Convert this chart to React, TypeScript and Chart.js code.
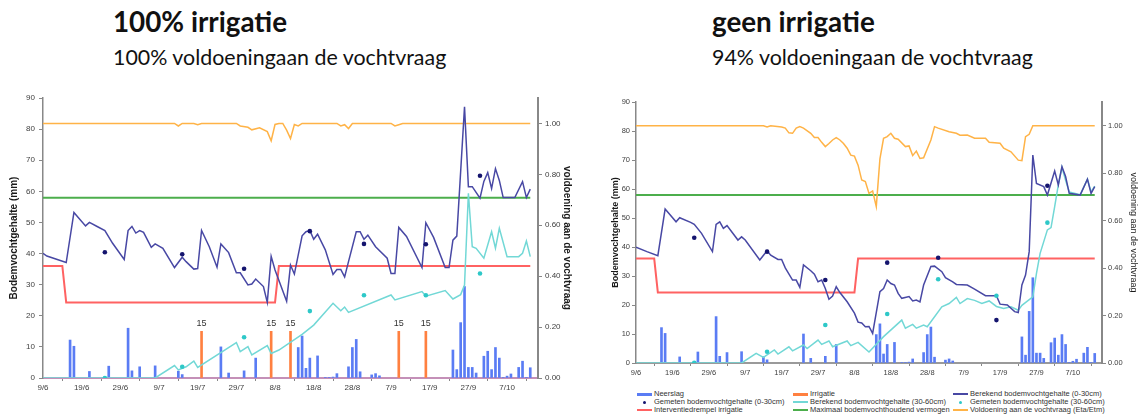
import React, { useEffect, useRef } from 'react';
import { Chart, registerables } from 'chart.js';

Chart.register(...registerables);

// ---------------- data ----------------
// x values are days after 9 June; tick labels are derived from them
const X_MAX_DAYS = 128;
const X_TICK_STEP = 10;

// shared weather / field data
const rainDays = [7, 8, 12, 17, 22, 23, 25, 29, 35, 36, 46, 48, 52, 55, 66, 67, 68, 69, 71, 73, 74, 75, 76, 79, 80, 81, 82, 85, 86, 87, 106, 107, 108, 109, 110, 111, 112, 114, 115, 116, 117, 118, 119, 120, 121, 123, 124, 125, 126];
const rainMm = [12.2, 10.2, 2.1, 3.8, 16.0, 2.3, 3.6, 3.9, 2.2, 1.1, 10.0, 1.6, 2.3, 6.4, 9.8, 13.5, 3.1, 6.4, 7.1, 0.2, 0.2, 0.3, 1.4, 3.6, 9.8, 12.4, 2.0, 1.0, 1.4, 0.7, 9.0, 2.7, 17.8, 29.4, 3.4, 3.4, 1.6, 7.0, 8.6, 2.7, 9.8, 6.4, 0.2, 0.6, 1.3, 3.4, 5.4, 0.2, 3.3];
const measuredDays = [16, 36, 52, 69, 83, 99, 113];
const thresholdLine = [[0, 36], [5, 36], [6, 24.3], [60, 24.3], [61, 36], [126, 36]];
const maxCapacityLine = [[0, 57.9], [126, 57.9]];

// 100% irrigatie
const irrIrrigationDays = [41, 59, 64, 92, 99];
const irrIrrigationMm = [15, 15, 15, 15, 15];
const irrCalc030 = [[0, 40.1], [1, 39.2], [6, 37.1], [8, 53.2], [11, 48.9], [12, 50.0], [14, 48.7], [16, 47.4], [18, 43.3], [21, 38.1], [22, 47.4], [23, 48.7], [24, 46.6], [25, 47.4], [26, 46.8], [28, 42.0], [29, 43.1], [31, 41.7], [34, 35.5], [36, 38.8], [37, 37.4], [39, 35.0], [40, 35.2], [41, 47.4], [43, 42.2], [45, 35.6], [46, 43.1], [48, 40.3], [50, 33.8], [51, 33.8], [53, 29.9], [54, 30.2], [55, 31.8], [57, 29.4], [58, 24.3], [59, 39.1], [60, 34.7], [63, 24.7], [64, 36.3], [65, 33.4], [67, 45.7], [68, 47.0], [69, 47.4], [70, 44.6], [71, 46.2], [73, 41.2], [75, 33.3], [76, 34.9], [77, 34.9], [78, 32.5], [79, 37.4], [81, 47.0], [82, 47.0], [83, 44.6], [84, 45.9], [86, 42.2], [89, 38.5], [90, 33.6], [91, 33.6], [92, 48.4], [94, 45.5], [98, 35.5], [99, 49.9], [101, 45.2], [104, 35.5], [105, 35.5], [106, 44.3], [107, 45.6], [109, 87.2], [110, 61.5], [111, 61.5], [113, 57.8], [114, 63.2], [115, 66.0], [116, 60.9], [117, 67.3], [118, 63.5], [119, 58.0], [122, 58.0], [124, 63.1], [125, 58.0], [126, 60.7]];
const irrCalc3060 = [[0, 0], [29, 0], [34, 4.0], [35, 2.6], [37, 3.6], [39, 5.4], [40, 3.4], [50, 11.4], [51, 8.5], [53, 10.1], [54, 7.4], [58, 10.4], [59, 7.9], [61, 9.0], [67, 14.0], [70, 17.0], [75, 24.0], [77, 21.6], [78, 22.8], [79, 21.1], [90, 26.7], [91, 25.1], [98, 27.8], [99, 26.3], [104, 28.1], [106, 25.4], [108, 26.8], [109, 29.9], [110, 59.4], [111, 42.2], [112, 41.7], [114, 38.5], [116, 47.0], [117, 41.7], [118, 48.1], [120, 39.0], [123, 39.0], [124, 40.1], [125, 44.0], [126, 39.0]];
const irrSupply = [[0, 1.0], [34, 1.0], [35, 0.99], [36, 1.0], [39, 1.0], [40, 0.995], [41, 1.0], [50, 1.0], [51, 0.99], [53, 0.985], [54, 0.975], [56, 0.983], [58, 0.968], [59, 0.932], [60, 0.996], [61, 1.0], [62, 1.0], [63, 0.974], [64, 0.941], [65, 0.996], [66, 0.99], [67, 1.0], [76, 1.0], [77, 0.99], [78, 0.995], [79, 0.98], [80, 1.0], [90, 1.0], [91, 0.99], [92, 0.995], [93, 1.0], [126, 1.0]];
const irrMeasured030 = [40.4, 39.8, 35.1, 47.2, 43.1, 43.0, 65.0];
const irrMeasured3060 = [0.0, 3.6, 13.1, 21.5, 26.6, 26.6, 33.6];

// geen irrigatie
const dryIrrigationDays: number[] = [];
const dryIrrigationMm: number[] = [];
const dryCalc030 = [[0, 39.9], [3, 38.4], [6, 37.0], [8, 53.1], [11, 48.7], [12, 50.1], [15, 48.5], [16, 47.8], [18, 44.7], [21, 38.4], [22, 47.8], [23, 48.7], [24, 46.4], [25, 47.4], [28, 42.4], [29, 43.5], [30, 42.4], [34, 35.5], [36, 38.7], [37, 37.2], [39, 35.7], [40, 35.7], [41, 32.8], [43, 28.6], [44, 28.6], [45, 26.1], [46, 33.8], [48, 31.8], [49, 30.6], [50, 28.0], [51, 28.6], [52, 25.7], [53, 22.0], [54, 23.1], [55, 26.3], [56, 24.3], [58, 21.1], [60, 17.2], [61, 14.1], [62, 13.8], [63, 12.5], [64, 12.6], [65, 10.2], [67, 24.6], [68, 25.7], [69, 28.6], [70, 27.4], [71, 26.9], [72, 24.0], [73, 22.3], [75, 22.9], [76, 21.4], [77, 21.7], [78, 21.1], [79, 26.9], [81, 33.3], [82, 33.4], [84, 31.5], [85, 29.4], [87, 28.0], [88, 27.1], [91, 26.9], [93, 25.5], [96, 23.2], [99, 23.2], [100, 20.3], [102, 20.0], [104, 17.7], [105, 17.4], [106, 26.9], [107, 30.3], [108, 38.4], [109, 71.7], [110, 61.9], [112, 60.8], [113, 57.9], [115, 66.2], [116, 61.4], [117, 67.7], [118, 64.3], [119, 58.5], [122, 57.9], [124, 63.4], [125, 58.5], [126, 60.8]];
const dryCalc3060 = [[0, 0], [29, 0], [33, 3.3], [35, 1.9], [38, 4.5], [39, 3.1], [42, 5.6], [43, 4.2], [46, 6.2], [47, 5.0], [50, 7.9], [51, 6.4], [53, 7.6], [54, 5.6], [58, 7.6], [59, 6.0], [61, 7.1], [64, 3.8], [68, 9.1], [73, 14.8], [74, 12.0], [76, 13.3], [77, 12.0], [79, 13.1], [80, 12.5], [84, 19.4], [86, 20.5], [88, 22.6], [89, 20.5], [91, 22.2], [93, 21.6], [95, 20.5], [97, 21.4], [99, 19.5], [101, 18.8], [103, 19.4], [105, 18.2], [106, 19.9], [109, 22.8], [110, 30.9], [111, 37.8], [113, 45.9], [114, 46.7], [115, 53.9], [116, 61.4], [117, 67.5], [118, 63.0], [119, 59.0], [122, 58.0], [124, 63.4], [125, 59.0], [126, 61.0]];
const drySupply = [[0, 1.0], [35, 1.0], [36, 0.995], [37, 1.0], [40, 0.995], [41, 0.99], [42, 0.97], [43, 0.968], [44, 0.99], [45, 0.996], [46, 0.99], [48, 0.968], [49, 0.95], [50, 0.95], [51, 0.93], [52, 0.912], [53, 0.925], [54, 0.94], [55, 0.95], [56, 0.94], [57, 0.925], [58, 0.905], [59, 0.876], [60, 0.872], [61, 0.834], [62, 0.771], [63, 0.765], [64, 0.715], [65, 0.725], [66, 0.659], [67, 0.86], [68, 0.947], [69, 0.954], [70, 0.968], [71, 0.947], [72, 0.943], [74, 0.912], [75, 0.915], [76, 0.874], [77, 0.893], [78, 0.862], [79, 0.865], [81, 0.94], [82, 0.996], [83, 0.99], [86, 0.975], [88, 0.968], [89, 0.96], [91, 0.961], [93, 0.947], [96, 0.947], [97, 0.93], [100, 0.926], [101, 0.905], [103, 0.89], [105, 0.855], [106, 0.853], [107, 0.954], [108, 0.964], [109, 1.0], [126, 1.0]];
const dryMeasured030 = [43.2, 38.4, 28.6, 34.6, 36.3, 14.8, 61.1];
const dryMeasured3060 = [0.1, 3.9, 13.1, 16.9, 28.9, 23.2, 48.4];

// ---------------- labels & colours ----------------
const LABELS = {
  rain: 'Neerslag',
  irrigation: 'Irrigatie',
  calc030: 'Berekend bodemvochtgehalte (0-30cm)',
  meas030: 'Gemeten bodemvochtgehalte (0-30cm)',
  calc3060: 'Berekend bodemvochtgehalte (30-60cm)',
  meas3060: 'Gemeten bodemvochtgehalte (30-60cm)',
  threshold: 'Interventiedrempel irrigatie',
  maxCap: 'Maximaal bodemvochthoudend vermogen',
  supply: 'Voldoening aan de vochtvraag (Eta/Etm)',
};

const COLORS = {
  rain: '#5a7cf4',
  irrigation: '#ff8040',
  calc030: '#4848a4',
  meas030: '#14146e',
  calc3060: '#72d8d6',
  meas3060: '#2ec8c8',
  threshold: '#ff6262',
  maxCap: '#4cae4c',
  supply: '#ffb347',
};

const FONT = '"Liberation Sans", Arial, sans-serif';

function dayLabel(v: number): string {
  const d = new Date(Date.UTC(2010, 5, 9 + Math.round(v)));
  return `${d.getUTCDate()}/${d.getUTCMonth() + 1}`;
}

const toPoints = (arr: number[][]) => arr.map(([x, y]) => ({ x, y }));
const zipPoints = (xs: number[], ys: number[]) => xs.map((x, i) => ({ x, y: ys[i] }));
const keepSteps = (step: number) => (s: any) => {
  s.ticks = s.ticks.filter((t: any) => Math.abs(t.value / step - Math.round(t.value / step)) < 1e-6);
};

type Panel = {
  irrigationDays: number[];
  irrigationMm: number[];
  calc030: number[][];
  calc3060: number[][];
  supply: number[][];
  meas030: number[];
  meas3060: number[];
};

type Layout = {
  left: number; top: number; width: number; height: number;
  padTop: number; yWidth: number; y2Width: number; xHeight: number;
  tickFont: number; yTickPad: number; y2TickPad: number; xTickPad: number;
  yTitleSize: number; yTitlePad: number; y2TitleSize: number; y2TitlePad: number; y2TitleBold: boolean;
  xBorder: string;
};

const irrigated: Panel = {
  irrigationDays: irrIrrigationDays, irrigationMm: irrIrrigationMm,
  calc030: irrCalc030, calc3060: irrCalc3060, supply: irrSupply,
  meas030: irrMeasured030, meas3060: irrMeasured3060,
};
const rainfed: Panel = {
  irrigationDays: dryIrrigationDays, irrigationMm: dryIrrigationMm,
  calc030: dryCalc030, calc3060: dryCalc3060, supply: drySupply,
  meas030: dryMeasured030, meas3060: dryMeasured3060,
};

const leftLayout: Layout = {
  left: 0, top: 88, width: 580, height: 305,
  padTop: 10, yWidth: 43, y2Width: 42, xHeight: 15,
  tickFont: 8, yTickPad: 4, y2TickPad: 3, xTickPad: 2,
  yTitleSize: 10, yTitlePad: 8, y2TitleSize: 10, y2TitlePad: 7, y2TitleBold: true,
  xBorder: '#c490b8',
};
const rightLayout: Layout = {
  left: 590, top: 88, width: 550, height: 290,
  padTop: 14, yWidth: 46, y2Width: 38, xHeight: 15,
  tickFont: 7.5, yTickPad: 2, y2TickPad: 2, xTickPad: 2,
  yTitleSize: 9, yTitlePad: 20, y2TitleSize: 9, y2TitlePad: 1.5, y2TitleBold: false,
  xBorder: '#9a9a9a',
};

const barValueLabels = {
  id: 'barValueLabels',
  afterDatasetsDraw(chart: any) {
    const ctx = chart.ctx;
    chart.data.datasets.forEach((ds: any, i: number) => {
      if (ds.label !== LABELS.irrigation) return;
      const meta = chart.getDatasetMeta(i);
      ctx.save();
      ctx.font = `9px ${FONT}`;
      ctx.fillStyle = '#333';
      ctx.textAlign = 'center';
      ctx.textBaseline = 'bottom';
      meta.data.forEach((el: any, j: number) => {
        ctx.fillText(String(ds.data[j].y), el.x, el.y - 3);
      });
      ctx.restore();
    });
  },
};

function buildConfig(p: Panel, L: Layout): any {
  const tickColor = '#404040';
  const lineDs = (label: string, data: number[][], color: string, width: number, axis: string, order: number) => ({
    type: 'line', label, data: toPoints(data), borderColor: color, backgroundColor: color,
    borderWidth: width, pointRadius: 0, tension: 0, fill: false, yAxisID: axis, order,
  });
  const dotDs = (label: string, values: number[], color: string) => ({
    type: 'line', label, data: zipPoints(measuredDays, values), showLine: false,
    pointRadius: 2.3, pointBorderWidth: 0, pointBackgroundColor: color, borderColor: color,
    yAxisID: 'y', order: 0,
  });
  const barDs = (label: string, xs: number[], ys: number[], color: string) => ({
    type: 'bar', label, data: zipPoints(xs, ys), backgroundColor: color, borderWidth: 0,
    barThickness: 2, grouped: false, yAxisID: 'y', order: 10,
  });
  return {
    type: 'line',
    data: {
      datasets: [
        dotDs(LABELS.meas030, p.meas030, COLORS.meas030),
        dotDs(LABELS.meas3060, p.meas3060, COLORS.meas3060),
        lineDs(LABELS.calc030, p.calc030, COLORS.calc030, 1.5, 'y', 2),
        lineDs(LABELS.calc3060, p.calc3060, COLORS.calc3060, 1.5, 'y', 3),
        lineDs(LABELS.supply, p.supply, COLORS.supply, 1.5, 'y2', 4),
        lineDs(LABELS.threshold, thresholdLine, COLORS.threshold, 2, 'y', 5),
        lineDs(LABELS.maxCap, maxCapacityLine, COLORS.maxCap, 2, 'y', 5),
        barDs(LABELS.irrigation, p.irrigationDays, p.irrigationMm, COLORS.irrigation),
        barDs(LABELS.rain, rainDays, rainMm, COLORS.rain),
      ],
    },
    options: {
      animation: false,
      responsive: false,
      maintainAspectRatio: false,
      devicePixelRatio: 1,
      layout: { padding: { top: L.padTop, left: 0, right: 0, bottom: 0 } },
      plugins: { legend: { display: false }, tooltip: { enabled: false }, title: { display: false } },
      scales: {
        x: {
          type: 'linear', min: 0, max: X_MAX_DAYS, bounds: 'data', offset: false,
          ticks: {
            stepSize: X_TICK_STEP, autoSkip: false, maxRotation: 0,
            padding: L.xTickPad, color: tickColor, font: { family: FONT, size: L.tickFont },
            callback: (v: any) => dayLabel(Number(v)),
          },
          afterBuildTicks: keepSteps(X_TICK_STEP),
          grid: { drawOnChartArea: false, drawTicks: true, tickLength: 3, color: '#888' },
          border: { color: L.xBorder, width: 2 },
          afterFit: (s: any) => { s.height = L.xHeight; },
        },
        y: {
          position: 'left', min: 0, max: 90, bounds: 'data',
          ticks: { stepSize: 10, padding: L.yTickPad, color: tickColor, font: { family: FONT, size: L.tickFont } },
          grid: { drawOnChartArea: false, drawTicks: true, tickLength: 4, color: '#888' },
          border: { color: '#888', width: 1.5 },
          title: {
            display: true, text: 'Bodemvochtgehalte (mm)', color: '#1a1a1a',
            font: { family: FONT, size: L.yTitleSize, weight: 'bold' }, padding: { top: L.yTitlePad, bottom: 0 },
          },
          afterFit: (s: any) => { s.width = L.yWidth; },
        },
        y2: {
          position: 'right', min: 0, max: 1.1, bounds: 'data',
          ticks: {
            stepSize: 0.2, padding: L.y2TickPad, color: tickColor,
            font: { family: FONT, size: L.tickFont }, callback: (v: any) => Number(v).toFixed(2),
          },
          afterBuildTicks: keepSteps(0.2),
          grid: { drawOnChartArea: false, drawTicks: true, tickLength: 4, color: '#888' },
          border: { color: '#888', width: 2 },
          title: {
            display: true, text: 'voldoening aan de vochtvraag', color: '#1a1a1a',
            font: { family: FONT, size: L.y2TitleSize, weight: L.y2TitleBold ? 'bold' : 'normal' },
            padding: { top: L.y2TitlePad, bottom: 0 },
          },
          afterFit: (s: any) => { s.width = L.y2Width; },
        },
      },
    },
    plugins: [barValueLabels],
  };
}

function PanelChart({ panel, layout }: { panel: Panel; layout: Layout }) {
  const ref = useRef<HTMLCanvasElement>(null);
  useEffect(() => {
    if (!ref.current) return;
    const chart = new Chart(ref.current, buildConfig(panel, layout));
    return () => chart.destroy();
  }, [panel, layout]);
  return (
    <canvas
      ref={ref}
      width={layout.width}
      height={layout.height}
      style={{ position: 'absolute', left: layout.left, top: layout.top, width: layout.width, height: layout.height }}
    />
  );
}

type LegendKind = 'thick' | 'line' | 'dot';
const legendItems: { label: string; color: string; kind: LegendKind }[] = [
  { label: LABELS.rain, color: COLORS.rain, kind: 'thick' },
  { label: LABELS.irrigation, color: COLORS.irrigation, kind: 'thick' },
  { label: LABELS.calc030, color: COLORS.calc030, kind: 'line' },
  { label: LABELS.meas030, color: COLORS.meas030, kind: 'dot' },
  { label: LABELS.calc3060, color: COLORS.calc3060, kind: 'line' },
  { label: LABELS.meas3060, color: COLORS.meas3060, kind: 'dot' },
  { label: LABELS.threshold, color: COLORS.threshold, kind: 'line' },
  { label: LABELS.maxCap, color: COLORS.maxCap, kind: 'line' },
  { label: LABELS.supply, color: COLORS.supply, kind: 'line' },
];
const legendCols = [637, 793, 953];
const legendRows = [394, 402, 410];

function Legend() {
  return (
    <>
      {legendItems.map((it, i) => {
        const x = legendCols[i % 3];
        const y = legendRows[Math.floor(i / 3)];
        let symbol: React.ReactNode;
        if (it.kind === 'dot') {
          symbol = <div style={{ position: 'absolute', left: 6, top: -1.5, width: 3, height: 3, borderRadius: 2, background: it.color }} />;
        } else {
          const h = it.kind === 'thick' ? 3 : 1.5;
          symbol = <div style={{ position: 'absolute', left: 0, top: -h / 2, width: 15, height: h, background: it.color }} />;
        }
        return (
          <div key={i} style={{ position: 'absolute', left: x, top: y, height: 0 }}>
            {symbol}
            <div style={{ position: 'absolute', left: 17, top: -5, fontSize: 7.5, lineHeight: '10px', color: '#333', whiteSpace: 'nowrap', fontFamily: FONT }}>
              {it.label}
            </div>
          </div>
        );
      })}
    </>
  );
}

const titleStyle = (left: number): React.CSSProperties => ({
  position: 'absolute', left, top: 5, fontFamily: 'Lato, "Open Sans", sans-serif', fontWeight: 700,
  fontSize: 27.8, lineHeight: 'normal', color: '#111', whiteSpace: 'nowrap',
});
const subStyle = (left: number): React.CSSProperties => ({
  position: 'absolute', left, top: 44, fontFamily: 'Lato, "Open Sans", sans-serif', fontWeight: 400,
  fontSize: 21.4, lineHeight: 'normal', color: '#111', whiteSpace: 'nowrap',
});

export default function App() {
  return (
    <div style={{ position: 'absolute', left: 0, top: 0, width: 1140, height: 417, background: '#fff', overflow: 'hidden' }}>
      <div style={titleStyle(113)}>100% irrigatie</div>
      <div style={subStyle(113)}>100% voldoeningaan de vochtvraag</div>
      <div style={titleStyle(712)}>geen irrigatie</div>
      <div style={subStyle(712)}>94% voldoeningaan de vochtvraag</div>
      <PanelChart panel={irrigated} layout={leftLayout} />
      <PanelChart panel={rainfed} layout={rightLayout} />
      <Legend />
    </div>
  );
}
